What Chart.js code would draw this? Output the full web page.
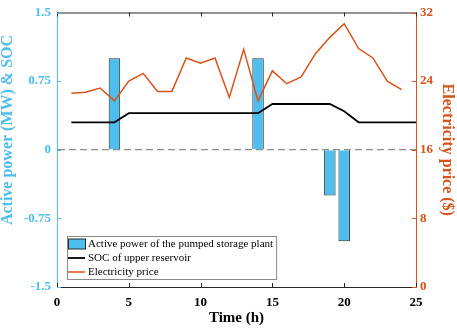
<!DOCTYPE html>
<html>
<head>
<meta charset="utf-8">
<title>Pumped storage plant</title>
<script src="https://cdn.jsdelivr.net/npm/chart.js"></script>
<style>
    body { margin: 0; background: #fff; }
</style>
</head>
<body>
<canvas id="chart" width="457" height="334"></canvas>
<script>
    // hourly electricity price ($)
    const hours = [1, 2, 3, 4, 5, 6, 7, 8, 9, 10, 11, 12, 13, 14, 15, 16, 17, 18, 19, 20, 21, 22, 23, 24];
    const price = [22.6, 22.7, 23.2, 21.7, 24.0, 24.9, 22.8, 22.8, 26.7, 26.1, 26.7, 22.1, 27.7, 21.7, 25.2, 23.7, 24.5, 27.2, 29.1, 30.7, 27.8, 26.7, 24.0, 23.0];

    // SOC of upper reservoir
    const socHours = [1, 2, 3, 4, 5, 6, 7, 8, 9, 10, 11, 12, 13, 14, 15, 16, 17, 18, 19, 20, 21, 22, 23, 24, 25];
    const soc = [0.3, 0.3, 0.3, 0.3, 0.4, 0.4, 0.4, 0.4, 0.4, 0.4, 0.4, 0.4, 0.4, 0.4, 0.5, 0.5, 0.5, 0.5, 0.5, 0.42, 0.3, 0.3, 0.3, 0.3, 0.3];

    // active power of the pumped storage plant (MW)
    const barHours = [4, 14, 19, 20];
    const barPower = [1, 1, -0.5, -1];

    // tick labels
    const timeTicks = [0, 5, 10, 15, 20, 25];
    const powerTicks = [-1.5, -0.75, 0, 0.75, 1.5];
    const priceTicks = [0, 8, 16, 24, 32];

    const BLUE = '#4DBEEE';
    const ORANGE = '#D95319';
    const FONT = '"Liberation Serif", "Times New Roman", serif';

    function pairs(xs, ys) {
        return xs.map((x, i) => ({ x: x, y: ys[i] }));
    }

    // box frame, inward ticks, left title and the in-plot legend
    const framePlugin = {
        id: 'frame',
        afterDraw(chart) {
            const ctx = chart.ctx;
            const area = chart.chartArea;
            const sx = chart.scales.x, sy = chart.scales.y, sy1 = chart.scales.y1;
            const tl = 4;
            ctx.save();
            ctx.lineWidth = 1;

            // top border
            ctx.strokeStyle = '#262626';
            ctx.beginPath();
            ctx.moveTo(area.left, area.top + 0.5);
            ctx.lineTo(area.right, area.top + 0.5);
            ctx.stroke();

            // x ticks top and bottom
            ctx.beginPath();
            timeTicks.forEach(v => {
                const px = Math.round(sx.getPixelForValue(v)) + 0.5;
                ctx.moveTo(px, area.bottom);
                ctx.lineTo(px, area.bottom - tl);
                ctx.moveTo(px, area.top);
                ctx.lineTo(px, area.top + tl);
            });
            ctx.stroke();

            // left ticks
            ctx.strokeStyle = BLUE;
            ctx.beginPath();
            powerTicks.forEach(v => {
                const py = Math.round(sy.getPixelForValue(v)) + 0.5;
                ctx.moveTo(area.left, py);
                ctx.lineTo(area.left + tl, py);
            });
            ctx.stroke();

            // right ticks
            ctx.strokeStyle = ORANGE;
            ctx.beginPath();
            priceTicks.forEach(v => {
                const py = Math.round(sy1.getPixelForValue(v)) + 0.5;
                ctx.moveTo(area.right, py);
                ctx.lineTo(area.right - tl, py);
            });
            ctx.stroke();

            // left axis title (sits a bit above centre as in the figure)
            ctx.save();
            ctx.translate(8, 130);
            ctx.rotate(-Math.PI / 2);
            ctx.fillStyle = BLUE;
            ctx.font = 'bold 16px ' + FONT;
            ctx.textAlign = 'center';
            ctx.textBaseline = 'middle';
            ctx.fillText('Active power (MW) & SOC', 0, 0);
            ctx.restore();

            // legend box
            const items = chart.data.datasets;
            ctx.font = '11px ' + FONT;
            const rowH = 14, sw = 17;
            const tw = Math.max(...items.map(d => ctx.measureText(d.label).width));
            const w = 1 + sw + 3 + tw + 3;
            const h = items.length * rowH + 1;
            const x0 = area.left + 10, y0 = area.bottom - 8 - h;
            ctx.fillStyle = '#fff';
            ctx.fillRect(x0, y0, w, h);
            ctx.strokeStyle = '#8a8a8a';
            ctx.strokeRect(x0 + 0.5, y0 + 0.5, w, h);
            ctx.textBaseline = 'middle';
            ctx.textAlign = 'left';
            items.forEach((d, i) => {
                const cy = y0 + 8 + i * rowH;
                if (d.type === 'bar') {
                    ctx.fillStyle = d.backgroundColor;
                    ctx.fillRect(x0 + 1.5, cy - 5, sw, 10);
                    ctx.strokeStyle = d.borderColor;
                    ctx.strokeRect(x0 + 1.5, cy - 5, sw, 10);
                } else {
                    ctx.strokeStyle = d.borderColor;
                    ctx.lineWidth = d.borderWidth;
                    ctx.beginPath();
                    ctx.moveTo(x0 + 1, cy);
                    ctx.lineTo(x0 + 1 + sw, cy);
                    ctx.stroke();
                    ctx.lineWidth = 1;
                }
                ctx.fillStyle = '#000';
                ctx.fillText(d.label, x0 + sw + 4, cy + 0.5);
            });
            ctx.restore();
        }
    };

    new Chart(document.getElementById('chart'), {
        type: 'bar',
        data: {
            datasets: [{
                type: 'bar',
                label: 'Active power of the pumped storage plant',
                data: pairs(barHours, barPower),
                backgroundColor: BLUE,
                borderColor: '#2b2b2b',
                borderWidth: 1,
                barPercentage: 0.8,
                categoryPercentage: 1,
                yAxisID: 'y',
                order: 3
            }, {
                type: 'line',
                label: 'SOC of upper reservoir',
                data: pairs(socHours, soc),
                borderColor: '#000',
                borderWidth: 1.8,
                pointRadius: 0,
                tension: 0,
                yAxisID: 'y',
                order: 2
            }, {
                type: 'line',
                label: 'Electricity price',
                data: pairs(hours, price),
                borderColor: ORANGE,
                borderWidth: 1.5,
                pointRadius: 0,
                tension: 0,
                yAxisID: 'y1',
                order: 1
            }]
        },
        options: {
            responsive: false,
            animation: false,
            layout: { padding: { top: 7, left: 0, right: 0, bottom: 0 } },
            plugins: {
                legend: { display: false },
                tooltip: { enabled: false }
            },
            scales: {
                x: {
                    type: 'linear',
                    position: 'bottom',
                    offset: false,
                    min: 0,
                    max: 25,
                    afterBuildTicks: s => { s.ticks = timeTicks.map(v => ({ value: v })); },
                    afterFit: s => { s.height = 47; },
                    grid: { display: false, drawTicks: false, offset: false },
                    border: { color: '#262626', width: 1 },
                    ticks: {
                        autoSkip: false,
                        maxRotation: 0,
                        padding: 9,
                        color: '#000',
                        font: { family: FONT, size: 13, weight: 'bold', lineHeight: 1 },
                        callback: v => String(v)
                    },
                    title: {
                        display: true,
                        text: 'Time (h)',
                        color: '#000',
                        font: { family: FONT, size: 15, weight: 'bold' },
                        padding: { top: 0, bottom: 7 }
                    }
                },
                y: {
                    position: 'left',
                    min: -1.5,
                    max: 1.5,
                    afterBuildTicks: s => { s.ticks = powerTicks.map(v => ({ value: v })); },
                    afterFit: s => { s.width = 57; },
                    grid: {
                        drawTicks: false,
                        color: c => (c.tick && c.tick.value === 0) ? '#8c8c8c' : 'rgba(0,0,0,0)',
                        lineWidth: 1.2
                    },
                    border: { color: BLUE, width: 1, dash: [7, 4] },
                    ticks: {
                        autoSkip: false,
                        padding: 6,
                        color: BLUE,
                        font: { family: FONT, size: 13, weight: 'bold', lineHeight: 1 },
                        callback: v => String(v)
                    }
                },
                y1: {
                    position: 'right',
                    min: 0,
                    max: 32,
                    afterBuildTicks: s => { s.ticks = priceTicks.map(v => ({ value: v })); },
                    afterFit: s => { s.width = 41; },
                    grid: { display: false, drawTicks: false },
                    border: { color: ORANGE, width: 1 },
                    ticks: {
                        autoSkip: false,
                        padding: 4,
                        color: ORANGE,
                        font: { family: FONT, size: 13, weight: 'bold', lineHeight: 1 },
                        callback: v => String(v)
                    },
                    title: {
                        display: true,
                        text: 'Electricity price ($)',
                        color: ORANGE,
                        font: { family: FONT, size: 16, weight: 'bold' },
                        padding: { top: 0, bottom: 0 }
                    }
                }
            }
        },
        plugins: [framePlugin]
    });
</script>
</body>
</html>
